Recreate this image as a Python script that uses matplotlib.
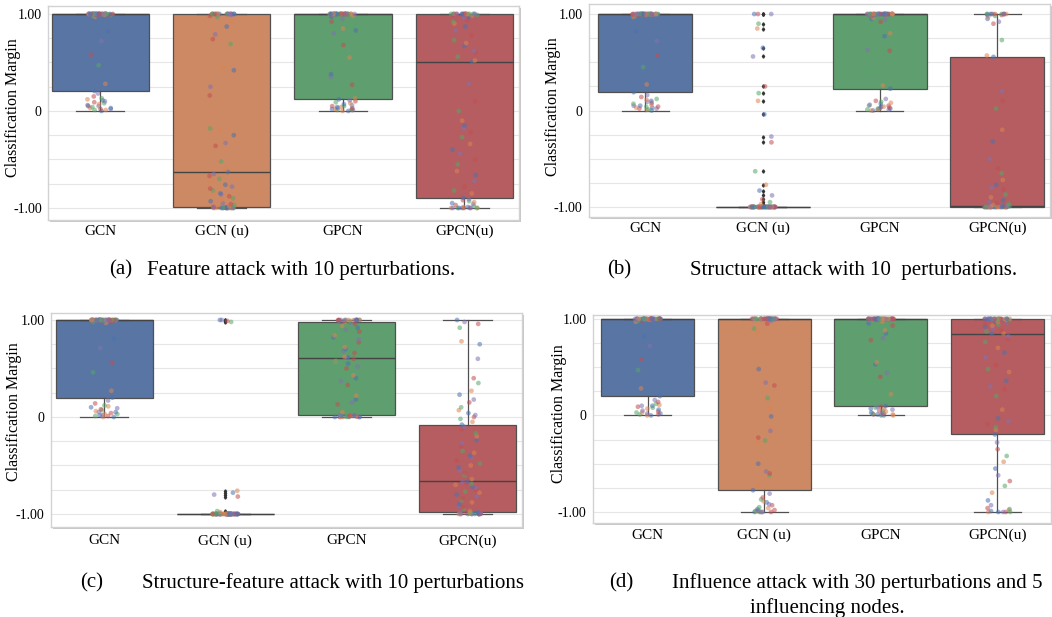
import numpy as np
import pandas as pd
import matplotlib
matplotlib.use("Agg")
import matplotlib.pyplot as plt
import matplotlib.patheffects as pe
import seaborn as sns

# ---------------------------------------------------------------- data
categories = ["GCN", "GCN (u)", "GPCN", "GPCN(u)"]

# (a) feature attack
a_gcn = [
    0.00, 0.01, 0.01, 0.02, 0.02, 0.03, 0.03, 0.04, 0.05, 0.05,
    0.06, 0.07, 0.08, 0.09, 0.10, 0.11, 0.12, 0.13, 0.15, 0.18,
    0.205, 0.28, 0.47, 0.58, 0.72, 0.82, 0.97, 0.98, 0.98, 0.99,
    0.99, 0.99, 0.99, 0.995, 0.995, 0.995, 0.998, 0.998, 0.999, 0.999,
    1.0, 1.0, 1.0, 1.0, 1.0, 1.0, 1.0, 1.0, 1.0, 1.0,
    1.0, 1.0, 1.0, 1.0, 1.0, 1.0, 1.0, 1.0, 1.0, 1.0,
    1.0, 1.0, 1.0, 1.0, 1.0, 1.0, 1.0, 1.0, 1.0, 1.0,
    1.0, 1.0, 1.0, 1.0, 1.0, 1.0, 1.0, 1.0, 1.0, 1.0,
    1.0,
]
a_gcn_u = [
    -1.0, -1.0, -1.0, -1.0, -1.0, -1.0, -1.0, -1.0, -1.0, -1.0,
    -1.0, -1.0, -1.0, -1.0, -1.0, -0.998, -0.995, -0.995, -0.99, -0.99,
    -0.99, -0.98, -0.97, -0.96, -0.95, -0.93, -0.92, -0.90, -0.88, -0.86,
    -0.85, -0.84, -0.82, -0.80, -0.78, -0.76, -0.72, -0.70, -0.67, -0.65,
    -0.628, -0.60, -0.52, -0.36, -0.33, -0.25, -0.20, -0.18, 0.16, 0.25,
    0.42, 0.45, 0.69, 0.74, 0.79, 0.87, 0.92, 0.97, 0.98, 0.99,
    1.0, 1.0, 1.0, 1.0, 1.0, 1.0, 1.0, 1.0, 1.0, 1.0,
    1.0, 1.0, 1.0, 1.0, 1.0, 1.0, 1.0, 1.0, 1.0, 1.0,
    1.0,
]
a_gpcn = [
    0.00, 0.00, 0.01, 0.01, 0.01, 0.02, 0.02, 0.02, 0.03, 0.03,
    0.04, 0.04, 0.05, 0.05, 0.06, 0.07, 0.08, 0.09, 0.10, 0.11,
    0.12, 0.13, 0.17, 0.27, 0.35, 0.38, 0.55, 0.60, 0.68, 0.80,
    0.83, 0.85, 0.88, 0.92, 0.95, 0.97, 0.98, 0.99, 0.99, 0.995,
    1.0, 1.0, 1.0, 1.0, 1.0, 1.0, 1.0, 1.0, 1.0, 1.0,
    1.0, 1.0, 1.0, 1.0, 1.0, 1.0, 1.0, 1.0, 1.0, 1.0,
    1.0, 1.0, 1.0, 1.0, 1.0, 1.0, 1.0, 1.0, 1.0, 1.0,
    1.0, 1.0, 1.0, 1.0, 1.0, 1.0, 1.0, 1.0, 1.0, 1.0,
    1.0,
]
a_gpcn_u = [
    -1.0, -1.0, -1.0, -1.0, -1.0, -1.0, -1.0, -1.0, -1.0, -1.0,
    -0.99, -0.99, -0.98, -0.97, -0.96, -0.95, -0.94, -0.93, -0.92, -0.91,
    -0.897, -0.85, -0.82, -0.78, -0.72, -0.66, -0.62, -0.55, -0.50, -0.44,
    -0.40, -0.34, -0.27, -0.22, -0.18, -0.15, -0.10, 0.00, 0.10, 0.28,
    0.505, 0.52, 0.56, 0.60, 0.62, 0.67, 0.70, 0.73, 0.78, 0.83,
    0.87, 0.90, 0.92, 0.94, 0.96, 0.97, 0.98, 0.99, 0.99, 0.995,
    1.0, 1.0, 1.0, 1.0, 1.0, 1.0, 1.0, 1.0, 1.0, 1.0,
    1.0, 1.0, 1.0, 1.0, 1.0, 1.0, 1.0, 1.0, 1.0, 1.0,
    1.0,
]

# (b) structure attack
b_gcn = [
    0.00, 0.01, 0.01, 0.02, 0.02, 0.03, 0.03, 0.04, 0.04, 0.05,
    0.05, 0.06, 0.07, 0.08, 0.09, 0.10, 0.11, 0.12, 0.14, 0.16,
    0.19, 0.27, 0.45, 0.57, 0.72, 0.82, 0.97, 0.98, 0.99, 0.99,
    0.99, 0.99, 0.995, 0.995, 0.995, 0.998, 0.998, 0.999, 0.999, 0.999,
    1.0, 1.0, 1.0, 1.0, 1.0, 1.0, 1.0, 1.0, 1.0, 1.0,
    1.0, 1.0, 1.0, 1.0, 1.0, 1.0, 1.0, 1.0, 1.0, 1.0,
    1.0, 1.0, 1.0, 1.0, 1.0, 1.0, 1.0, 1.0, 1.0, 1.0,
    1.0, 1.0, 1.0, 1.0, 1.0, 1.0, 1.0, 1.0, 1.0, 1.0,
    1.0,
]
b_gcn_u = [
    -1.0, -1.0, -1.0, -1.0, -1.0, -1.0, -1.0, -1.0, -1.0, -1.0,
    -1.0, -1.0, -1.0, -1.0, -1.0, -1.0, -1.0, -1.0, -1.0, -1.0,
    -1.0, -1.0, -1.0, -1.0, -1.0, -1.0, -1.0, -1.0, -1.0, -1.0,
    -1.0, -1.0, -1.0, -1.0, -1.0, -1.0, -1.0, -1.0, -1.0, -1.0,
    -1.0, -1.0, -1.0, -1.0, -1.0, -1.0, -1.0, -1.0, -1.0, -1.0,
    -1.0, -1.0, -1.0, -1.0, -1.0, -1.0, -1.0, -1.0, -1.0, -1.0,
    -1.0, -0.97, -0.95, -0.92, -0.88, -0.83, -0.77, -0.63, -0.33, -0.27,
    -0.04, 0.10, 0.18, 0.25, 0.56, 0.65, 0.85, 0.90, 1.0, 1.0,
    1.0,
]
b_gpcn = [
    0.00, 0.00, 0.01, 0.01, 0.01, 0.02, 0.02, 0.02, 0.03, 0.03,
    0.04, 0.04, 0.05, 0.05, 0.06, 0.07, 0.08, 0.09, 0.10, 0.12,
    0.226, 0.26, 0.41, 0.62, 0.63, 0.77, 0.80, 0.87, 0.92, 0.94,
    0.95, 0.96, 0.97, 0.98, 0.98, 0.99, 0.99, 0.995, 0.998, 0.999,
    1.0, 1.0, 1.0, 1.0, 1.0, 1.0, 1.0, 1.0, 1.0, 1.0,
    1.0, 1.0, 1.0, 1.0, 1.0, 1.0, 1.0, 1.0, 1.0, 1.0,
    1.0, 1.0, 1.0, 1.0, 1.0, 1.0, 1.0, 1.0, 1.0, 1.0,
    1.0, 1.0, 1.0, 1.0, 1.0, 1.0, 1.0, 1.0, 1.0, 1.0,
    1.0,
]
b_gpcn_u = [
    -1.0, -1.0, -1.0, -1.0, -1.0, -1.0, -1.0, -1.0, -1.0, -1.0,
    -1.0, -1.0, -1.0, -1.0, -1.0, -1.0, -1.0, -1.0, -1.0, -1.0,
    -1.0, -1.0, -1.0, -1.0, -1.0, -1.0, -1.0, -1.0, -1.0, -1.0,
    -1.0, -1.0, -1.0, -0.998, -0.998, -0.995, -0.995, -0.993, -0.992, -0.991,
    -0.99, -0.98, -0.97, -0.96, -0.95, -0.93, -0.90, -0.87, -0.82, -0.80,
    -0.77, -0.72, -0.65, -0.60, -0.50, -0.32, -0.20, 0.02, 0.10, 0.20,
    0.556, 0.57, 0.73, 0.90, 0.92, 0.95, 0.97, 0.98, 0.99, 0.99,
    1.0, 1.0, 1.0, 1.0, 1.0, 1.0, 1.0, 1.0, 1.0, 1.0,
    1.0,
]

# (c) structure-feature attack
c_gcn = [
    0.00, 0.00, 0.01, 0.01, 0.02, 0.02, 0.03, 0.03, 0.04, 0.05,
    0.05, 0.06, 0.07, 0.08, 0.09, 0.10, 0.11, 0.12, 0.14, 0.17,
    0.20, 0.27, 0.46, 0.56, 0.71, 0.81, 0.97, 0.98, 0.98, 0.99,
    0.99, 0.99, 0.99, 0.995, 0.995, 0.995, 0.998, 0.998, 0.999, 0.999,
    1.0, 1.0, 1.0, 1.0, 1.0, 1.0, 1.0, 1.0, 1.0, 1.0,
    1.0, 1.0, 1.0, 1.0, 1.0, 1.0, 1.0, 1.0, 1.0, 1.0,
    1.0, 1.0, 1.0, 1.0, 1.0, 1.0, 1.0, 1.0, 1.0, 1.0,
    1.0, 1.0, 1.0, 1.0, 1.0, 1.0, 1.0, 1.0, 1.0, 1.0,
    1.0,
]
c_gcn_u = [
    -1.0, -1.0, -1.0, -1.0, -1.0, -1.0, -1.0, -1.0, -1.0, -1.0,
    -1.0, -1.0, -1.0, -1.0, -1.0, -1.0, -1.0, -1.0, -1.0, -1.0,
    -1.0, -1.0, -1.0, -1.0, -1.0, -1.0, -1.0, -1.0, -1.0, -1.0,
    -1.0, -1.0, -1.0, -1.0, -1.0, -1.0, -1.0, -1.0, -1.0, -1.0,
    -1.0, -1.0, -1.0, -1.0, -1.0, -1.0, -1.0, -1.0, -1.0, -1.0,
    -1.0, -1.0, -1.0, -1.0, -1.0, -1.0, -1.0, -1.0, -1.0, -1.0,
    -1.0, -1.0, -1.0, -1.0, -1.0, -1.0, -1.0, -1.0, -1.0, -1.0,
    -1.0, -0.98, -0.97, -0.82, -0.80, -0.78, -0.76, 0.98, 0.99, 1.0,
    1.0,
]
c_gpcn = [
    0.00, 0.00, 0.00, 0.00, 0.00, 0.00, 0.00, 0.00, 0.005, 0.005,
    0.01, 0.01, 0.01, 0.01, 0.012, 0.014, 0.015, 0.015, 0.016, 0.016,
    0.017, 0.05, 0.10, 0.13, 0.15, 0.18, 0.22, 0.28, 0.33, 0.37,
    0.40, 0.43, 0.47, 0.50, 0.52, 0.55, 0.57, 0.58, 0.60, 0.61,
    0.613, 0.62, 0.64, 0.66, 0.68, 0.70, 0.72, 0.75, 0.77, 0.80,
    0.82, 0.84, 0.86, 0.88, 0.90, 0.92, 0.94, 0.95, 0.96, 0.97,
    0.98, 0.985, 0.99, 0.99, 0.99, 0.995, 0.995, 0.998, 0.999, 1.0,
    1.0, 1.0, 1.0, 1.0, 1.0, 1.0, 1.0, 1.0, 1.0, 1.0,
    1.0,
]
c_gpcn_u = [
    -1.0, -1.0, -1.0, -1.0, -1.0, -1.0, -1.0, -1.0, -1.0, -1.0,
    -1.0, -1.0, -0.995, -0.995, -0.99, -0.99, -0.99, -0.988, -0.986, -0.985,
    -0.983, -0.97, -0.95, -0.93, -0.92, -0.90, -0.88, -0.86, -0.84, -0.82,
    -0.80, -0.78, -0.77, -0.75, -0.73, -0.72, -0.70, -0.69, -0.68, -0.67,
    -0.663, -0.64, -0.60, -0.58, -0.55, -0.52, -0.50, -0.48, -0.45, -0.42,
    -0.40, -0.37, -0.35, -0.30, -0.27, -0.24, -0.20, -0.17, -0.13, -0.10,
    -0.079, -0.05, -0.02, 0.00, 0.02, 0.04, 0.07, 0.10, 0.15, 0.18,
    0.23, 0.27, 0.35, 0.40, 0.60, 0.75, 0.78, 0.92, 0.96, 0.98,
    1.0,
]

# (d) influence attack
d_gcn = [
    0.00, 0.00, 0.01, 0.01, 0.02, 0.02, 0.03, 0.03, 0.04, 0.05,
    0.06, 0.07, 0.08, 0.09, 0.10, 0.10, 0.11, 0.12, 0.14, 0.16,
    0.20, 0.28, 0.47, 0.58, 0.72, 0.82, 0.97, 0.98, 0.98, 0.99,
    0.99, 0.99, 0.99, 0.995, 0.995, 0.995, 0.998, 0.998, 0.999, 0.999,
    1.0, 1.0, 1.0, 1.0, 1.0, 1.0, 1.0, 1.0, 1.0, 1.0,
    1.0, 1.0, 1.0, 1.0, 1.0, 1.0, 1.0, 1.0, 1.0, 1.0,
    1.0, 1.0, 1.0, 1.0, 1.0, 1.0, 1.0, 1.0, 1.0, 1.0,
    1.0, 1.0, 1.0, 1.0, 1.0, 1.0, 1.0, 1.0, 1.0, 1.0,
    1.0,
]
d_gcn_u = [
    -1.0, -1.0, -1.0, -1.0, -1.0, -1.0, -0.99, -0.99, -0.98, -0.98,
    -0.97, -0.96, -0.95, -0.93, -0.92, -0.90, -0.89, -0.87, -0.85, -0.81,
    -0.775, -0.72, -0.62, -0.60, -0.58, -0.50, -0.28, -0.26, -0.23, -0.16,
    -0.01, 0.07, 0.18, 0.31, 0.34, 0.48, 0.86, 0.90, 0.95, 0.98,
    1.0, 1.0, 1.0, 1.0, 1.0, 1.0, 1.0, 1.0, 1.0, 1.0,
    1.0, 1.0, 1.0, 1.0, 1.0, 1.0, 1.0, 1.0, 1.0, 1.0,
    1.0, 1.0, 1.0, 1.0, 1.0, 1.0, 1.0, 1.0, 1.0, 1.0,
    1.0, 1.0, 1.0, 1.0, 1.0, 1.0, 1.0, 1.0, 1.0, 1.0,
    1.0,
]
d_gpcn = [
    0.00, 0.00, 0.00, 0.01, 0.01, 0.01, 0.01, 0.02, 0.02, 0.03,
    0.03, 0.04, 0.05, 0.05, 0.06, 0.07, 0.07, 0.08, 0.09, 0.09,
    0.097, 0.22, 0.34, 0.40, 0.44, 0.53, 0.55, 0.72, 0.78, 0.80,
    0.85, 0.88, 0.90, 0.93, 0.95, 0.96, 0.97, 0.98, 0.99, 0.99,
    1.0, 1.0, 1.0, 1.0, 1.0, 1.0, 1.0, 1.0, 1.0, 1.0,
    1.0, 1.0, 1.0, 1.0, 1.0, 1.0, 1.0, 1.0, 1.0, 1.0,
    1.0, 1.0, 1.0, 1.0, 1.0, 1.0, 1.0, 1.0, 1.0, 1.0,
    1.0, 1.0, 1.0, 1.0, 1.0, 1.0, 1.0, 1.0, 1.0, 1.0,
    1.0,
]
d_gpcn_u = [
    -1.0, -1.0, -1.0, -1.0, -1.0, -0.99, -0.98, -0.97, -0.96, -0.93,
    -0.88, -0.80, -0.73, -0.68, -0.62, -0.55, -0.48, -0.42, -0.35, -0.28,
    -0.197, -0.15, -0.12, -0.09, -0.06, -0.03, 0.06, 0.20, 0.27, 0.30,
    0.36, 0.45, 0.48, 0.52, 0.60, 0.65, 0.70, 0.76, 0.79, 0.82,
    0.845, 0.85, 0.87, 0.88, 0.90, 0.92, 0.93, 0.94, 0.95, 0.96,
    0.97, 0.97, 0.98, 0.98, 0.99, 0.99, 0.99, 0.995, 0.995, 0.998,
    1.0, 1.0, 1.0, 1.0, 1.0, 1.0, 1.0, 1.0, 1.0, 1.0,
    1.0, 1.0, 1.0, 1.0, 1.0, 1.0, 1.0, 1.0, 1.0, 1.0,
    1.0,
]

panel_a = [a_gcn, a_gcn_u, a_gpcn, a_gpcn_u]
panel_b = [b_gcn, b_gcn_u, b_gpcn, b_gpcn_u]
panel_c = [c_gcn, c_gcn_u, c_gpcn, c_gpcn_u]
panel_d = [d_gcn, d_gcn_u, d_gpcn, d_gpcn_u]

caption_tags = ["(a)", "(b)", "(c)", "(d)"]
caption_texts = [
    "Feature attack with 10 perturbations.",
    "Structure attack with 10  perturbations.",
    "Structure-feature attack with 10 perturbations",
    "Influence attack with 30 perturbations and 5",
]
caption_extra = "influencing nodes."

y_ticks = [-1.0, 0.0, 1.0]
y_tick_labels = ["-1.00", "0", "1.00"]
y_minor = [-0.75, -0.5, -0.25, 0.25, 0.5, 0.75]
y_label = "Classification Margin"

# ---------------------------------------------------------------- style
W, H = 1052, 617
plt.rcParams["font.family"] = ["Liberation Serif", "DejaVu Serif"]
np.random.seed(3)

fig = plt.figure(figsize=(W / 100, H / 100), dpi=100)
fig.patch.set_facecolor("white")

box_colors = [sns.desaturate(c, 0.75) for c in sns.color_palette("deep", 4)]
point_colors = sns.color_palette("deep", 5)
line_color = "#505050"

# pixel layout of each panel
layout = [
    dict(box=(48, 6, 519, 220), xlim=(-0.43, 3.45), ylim=(-1.124, 1.082), xpad=3.3,
         ylab=(13, 108), cap_y=270, tag_x=109, txt_x=147),
    dict(box=(589, 4, 1050, 217), xlim=(-0.48, 3.45), ylim=(-1.104, 1.104), xpad=3.6,
         ylab=(553, 107), cap_y=270, tag_x=607, txt_x=690),
    dict(box=(51, 313, 522, 527), xlim=(-0.44, 3.45), ylim=(-1.134, 1.072), xpad=5.3,
         ylab=(14, 412), cap_y=583, tag_x=80, txt_x=142),
    dict(box=(593, 315, 1051, 523), xlim=(-0.47, 3.46), ylim=(-1.114, 1.04), xpad=4.3,
         ylab=(559, 414), cap_y=583, tag_x=609, txt_x=672),
]
panels = [panel_a, panel_b, panel_c, panel_d]

for idx, (groups, lay) in enumerate(zip(panels, layout)):
    l, t, r, b = lay["box"]
    ax = fig.add_axes([l / W, 1 - b / H, (r - l) / W, (b - t) / H])
    ax.set_facecolor("white")

    # jittered points, coloured by class
    rows = []
    for name, vals in zip(categories, groups):
        for k, v in enumerate(vals):
            rows.append((name, v, k % len(point_colors)))
    df = pd.DataFrame(rows, columns=["model", "margin", "cls"])
    sns.stripplot(data=df, x="model", y="margin", hue="cls", order=categories,
                  palette=point_colors, jitter=0.11, size=3.4, alpha=0.55,
                  linewidth=0, legend=False, ax=ax, zorder=3)

    # boxes
    bp = ax.boxplot(groups, positions=range(4), widths=0.8, patch_artist=True,
                    whis=1.5, manage_ticks=False, zorder=2,
                    boxprops=dict(edgecolor=line_color, linewidth=0.9),
                    medianprops=dict(color="#444444", linewidth=1.0),
                    whiskerprops=dict(color=line_color, linewidth=0.9),
                    capprops=dict(color=line_color, linewidth=0.9),
                    flierprops=dict(marker="d", markersize=1.7, markerfacecolor="#333333",
                                    markeredgecolor="#333333", linestyle="none"))
    for patch, col in zip(bp["boxes"], box_colors):
        patch.set_facecolor(col)

    ax.set_xlim(*lay["xlim"])
    ax.set_ylim(*lay["ylim"])
    ax.set_xticks(range(4))
    ax.set_xticklabels(categories, fontsize=11)
    ax.set_yticks(y_ticks)
    ax.set_yticklabels(y_tick_labels, fontsize=10)
    ax.set_yticks(y_minor, minor=True)
    ax.tick_params(axis="both", which="both", length=0)
    ax.tick_params(axis="x", pad=lay["xpad"])
    ax.tick_params(axis="y", pad=4.5)
    ax.grid(True, axis="y", which="both", color="#e6e6e6", linewidth=0.8)
    ax.grid(False, axis="x")
    ax.set_axisbelow(True)
    ax.set_xlabel("")
    ax.set_ylabel("")
    for sp in ax.spines.values():
        sp.set_color("#d2d2d2")
        sp.set_linewidth(1.0)
    ax.patch.set_path_effects([
        pe.SimplePatchShadow(offset=(1.6, -1.6), shadow_rgbFace="#000000", alpha=0.22),
        pe.Normal(),
    ])

    fig.text(lay["ylab"][0] / W, 1 - lay["ylab"][1] / H, y_label, rotation=90,
             ha="center", va="center", fontsize=11.5)
    fig.text(lay["tag_x"] / W, 1 - lay["cap_y"] / H, caption_tags[idx],
             ha="left", va="center", fontsize=15)
    fig.text(lay["txt_x"] / W, 1 - lay["cap_y"] / H, caption_texts[idx],
             ha="left", va="center", fontsize=15)

fig.text(827 / W, 1 - 608 / H, caption_extra, ha="center", va="center", fontsize=15)

fig.savefig("out.png", dpi=100, facecolor="white")
